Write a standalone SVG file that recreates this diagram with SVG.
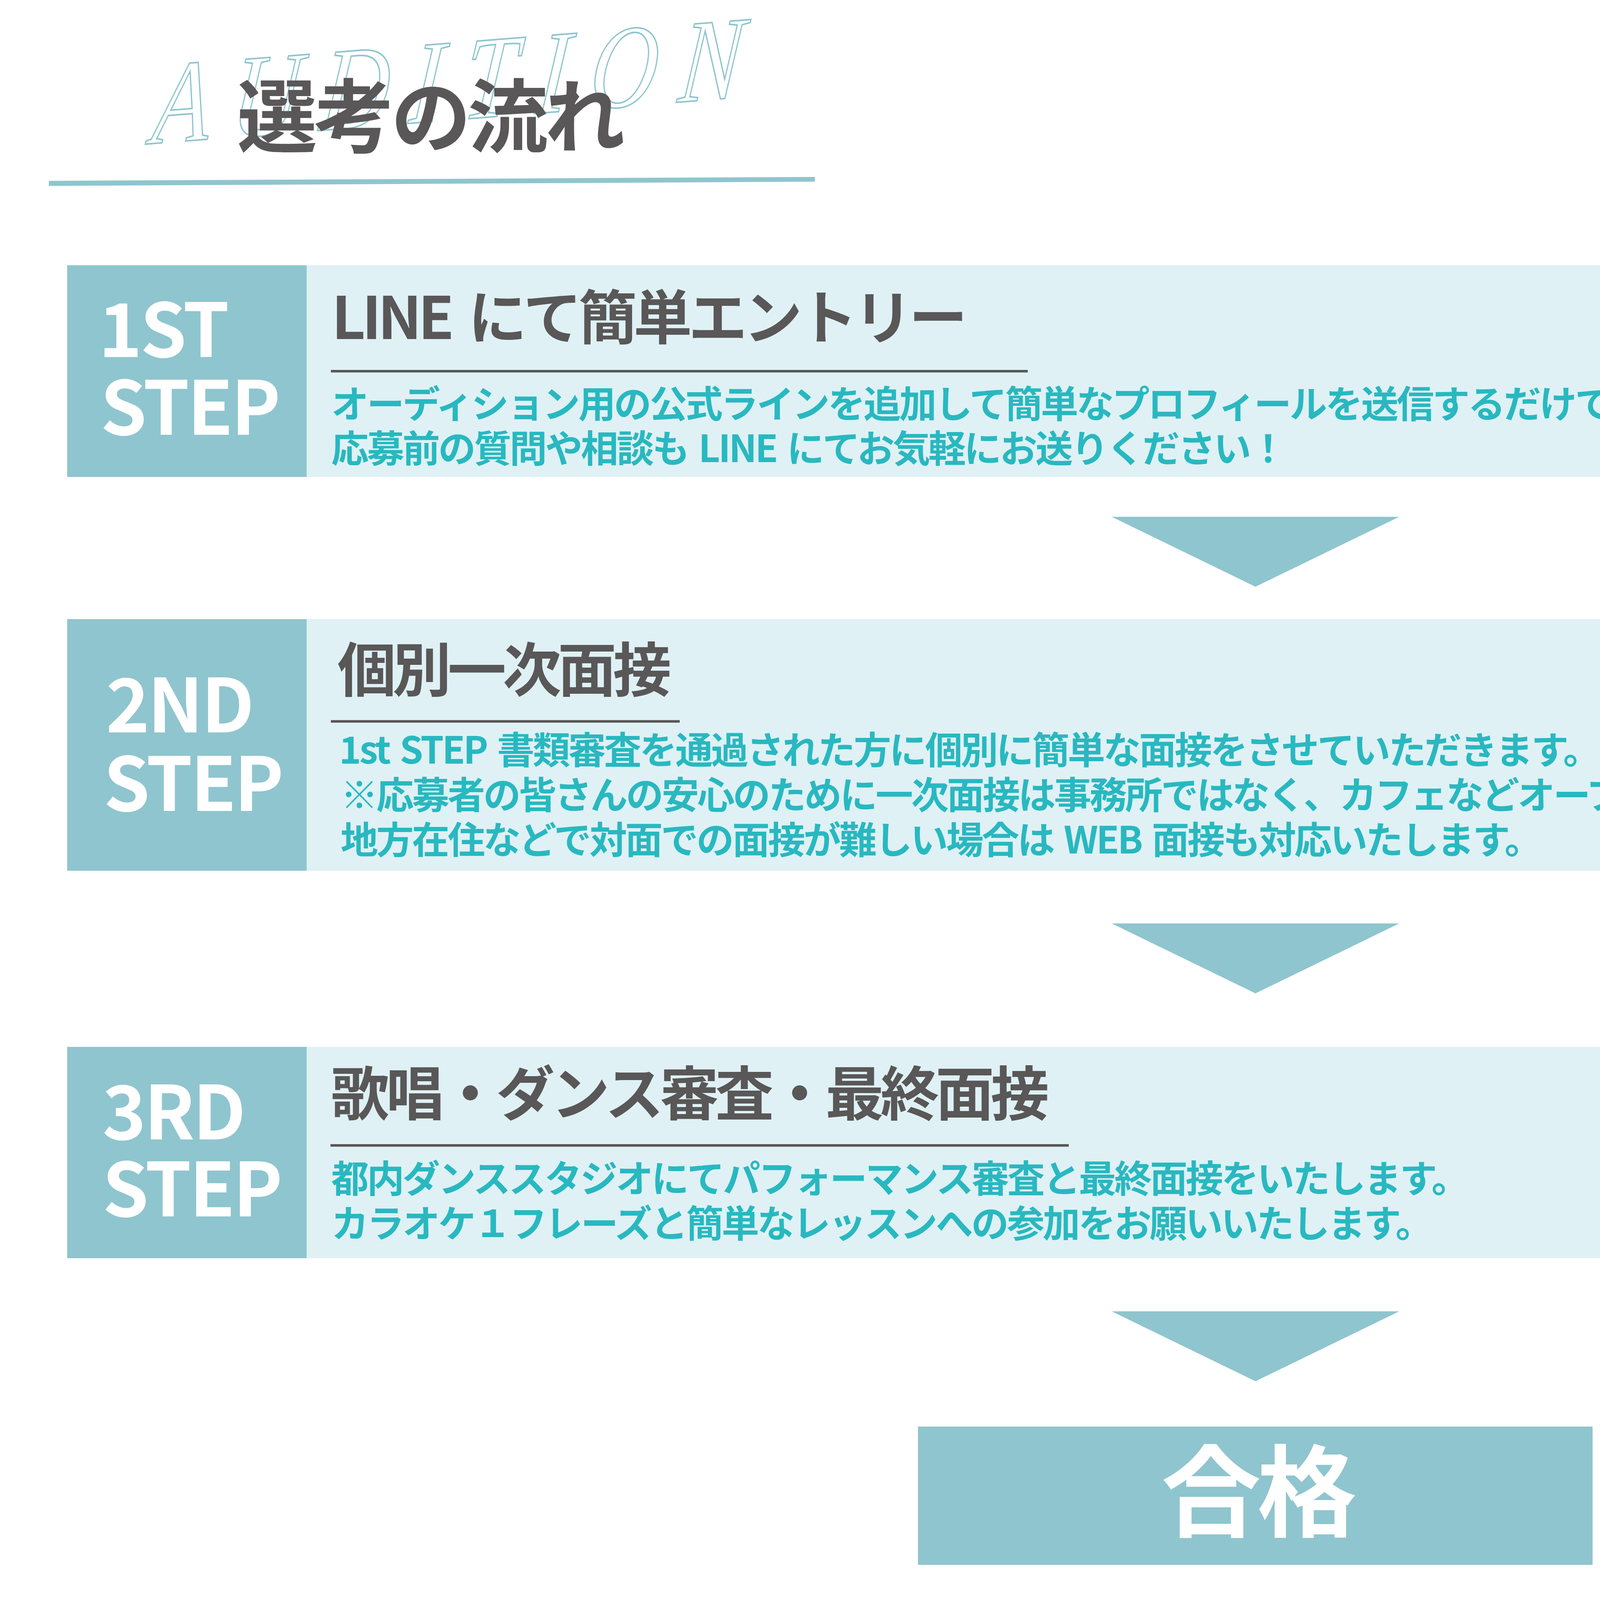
<svg xmlns="http://www.w3.org/2000/svg" width="6379" height="4381" viewBox="0 0 6379 4381">
  <style>
    .jp { font-family: "Noto Sans CJK JP", "Noto Sans", sans-serif; font-weight: 700; }
    .dark { fill: #8fc5ce; }
    .light { fill: #dff1f5; }
    .label { font-size: 190px; fill: #ffffff; letter-spacing: -5px; }
    .ttl { font-size: 150px; fill: #595757; letter-spacing: -9px; word-spacing: 20px; }
    .body { font-size: 96px; fill: #29b8c0; letter-spacing: -4.7px; word-spacing: 10px; }
    .rule { fill: #595757; }
    .arrow { fill: #8fc5ce; }
  </style>
  <rect width="6379" height="4381" fill="#ffffff"/>

  <g id="header">
    <text x="0" y="0" transform="translate(385 368) rotate(-4.5) skewX(-10) scale(0.8 1)" font-family="Liberation Serif, serif" font-style="italic" font-size="300" letter-spacing="70" fill="none" stroke="#8fc5ce" stroke-width="4">AUDITION</text>
    <text class="jp" x="607" y="374" font-size="205" letter-spacing="-8" fill="#595757">選考の流れ</text>
    <polygon points="125,463 2086,453 2086,465 125,476" fill="#8fc5ce"/>
  </g>

  <g id="step1">
    <rect class="dark" x="172" y="679" width="613" height="542"/>
    <rect class="light" x="785" y="679" width="5463" height="542"/>
    <text class="jp label" x="252" y="914">1ST</text>
    <text class="jp label" x="257" y="1113">STEP</text>
    <text class="jp ttl" x="849" y="868">LINE にて簡単エントリー</text>
    <rect class="rule" x="847" y="947" width="1784" height="6.5"/>
    <text class="jp body" x="848" y="1069">オーディション用の公式ラインを追加して簡単なプロフィールを送信するだけで応募完了！</text>
    <text class="jp body" x="848" y="1183">応募前の質問や相談も LINE にてお気軽にお送りください！</text>
  </g>

  <g id="step2">
    <rect class="dark" x="172" y="1585" width="613" height="644"/>
    <rect class="light" x="785" y="1585" width="5463" height="644"/>
    <text class="jp label" x="271" y="1875">2ND</text>
    <text class="jp label" x="265" y="2076">STEP</text>
    <text class="jp ttl" x="864" y="1770">個別一次面接</text>
    <rect class="rule" x="847" y="1843.5" width="893" height="6.5"/>
    <text class="jp body" x="868" y="1955">1st STEP 書類審査を通過された方に個別に簡単な面接をさせていただきます。</text>
    <text class="jp body" x="872" y="2070">※応募者の皆さんの安心のために一次面接は事務所ではなく、カフェなどオープンスペースにて実施いたします。</text>
    <text class="jp body" x="872" y="2185">地方在住などで対面での面接が難しい場合は WEB 面接も対応いたします。</text>
  </g>

  <g id="step3">
    <rect class="dark" x="172" y="2680" width="613" height="541"/>
    <rect class="light" x="785" y="2680" width="5463" height="541"/>
    <text class="jp label" x="262" y="2917">3RD</text>
    <text class="jp label" x="262" y="3114">STEP</text>
    <text class="jp ttl" x="847" y="2855">歌唱・ダンス審査・最終面接</text>
    <rect class="rule" x="846" y="2929" width="1890" height="6.5"/>
    <text class="jp body" x="848" y="3052">都内ダンススタジオにてパフォーマンス審査と最終面接をいたします。</text>
    <text class="jp body" x="848" y="3167">カラオケ１フレーズと簡単なレッスンへの参加をお願いいたします。</text>
  </g>

  <g id="pass">
    <rect class="dark" x="2350" y="3652" width="1727" height="354"/>
    <text class="jp" x="3218" y="3913" font-size="255" letter-spacing="-10" text-anchor="middle" fill="#ffffff">合格</text>
  </g>

  <g id="connectors">
    <polygon class="arrow" points="2846,1323 3582,1323 3214,1502"/>
    <polygon class="arrow" points="2846,2364 3582,2364 3214,2543"/>
    <polygon class="arrow" points="2846,3357 3582,3357 3214,3536"/>
  </g>

  <g id="footer">
    <rect class="dark" x="1386" y="4202" width="3605" height="68"/>
  </g>
</svg>
